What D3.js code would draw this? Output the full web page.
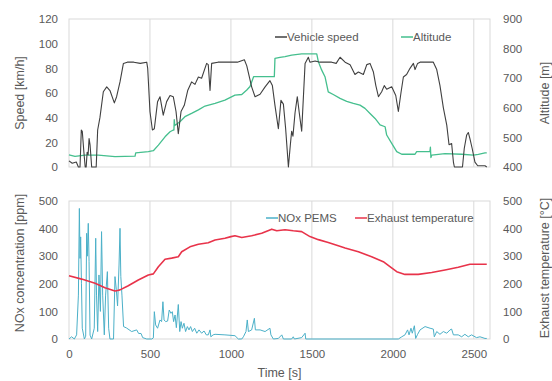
<!DOCTYPE html>
<html>
<head>
<meta charset="utf-8">
<script src="https://cdn.jsdelivr.net/npm/d3@7"></script>
<style>
  html, body { margin: 0; padding: 0; background: #fff; }
  svg { display: block; font-family: "Liberation Sans", Arial, sans-serif; }
</style>
</head>
<body>
<div id="chart"></div>
<script>
// time axis ticks [s]
const timeTicks = [0, 500, 1000, 1500, 2000, 2500];
const speedTicks = [0, 20, 40, 60, 80, 100, 120];
const altitudeTicks = [400, 500, 600, 700, 800, 900];
const noxTicks = [0, 100, 200, 300, 400, 500];
const tempTicks = [0, 100, 200, 300, 400, 500];

// [time s, km/h]
const vehicleSpeed = [[0,5],[20,3],[45,4],[58,0],[68,0],[76,30],[82,29],[92,12],[100,0],[106,0],[112,12],[118,10],[124,23],[130,18],[140,0],[168,0],[177,30],[191,40],[212,61],[233,65],[253,62],[280,52],[294,57],[315,69],[336,84],[360,85],[400,85],[440,84],[480,85],[486,80],[500,45],[515,30],[527,31],[547,53],[562,57],[582,42],[603,53],[624,58],[644,57],[661,45],[675,27],[692,45],[712,50],[733,62],[757,69],[778,67],[799,73],[819,72],[850,84],[860,83],[871,62],[881,84],[920,85],[980,85],[1040,85],[1083,87],[1098,82],[1128,65],[1149,57],[1180,59],[1211,65],[1241,70],[1256,66],[1272,50],[1293,31],[1309,54],[1324,51],[1338,31],[1355,0],[1367,18],[1375,29],[1383,25],[1396,44],[1410,57],[1422,44],[1437,29],[1458,84],[1478,89],[1488,85],[1520,86],[1550,85],[1591,85],[1622,85],[1650,84],[1674,89],[1705,85],[1736,83],[1766,75],[1787,77],[1818,75],[1839,83],[1859,84],[1880,77],[1895,66],[1911,57],[1931,61],[1947,66],[1962,63],[1993,65],[2018,58],[2034,45],[2050,60],[2065,73],[2085,75],[2106,80],[2127,84],[2137,79],[2153,84],[2168,85],[2200,85],[2250,85],[2271,79],[2291,66],[2312,48],[2333,34],[2347,18],[2363,19],[2374,4],[2380,0],[2430,0],[2441,15],[2456,26],[2466,28],[2476,23],[2490,15],[2507,4],[2524,1],[2569,1],[2580,0]];

// [time s, m]
const altitude = [[0,441],[37,436],[99,440],[181,440],[284,435],[408,437],[412,448],[490,452],[521,455],[552,474],[593,502],[624,519],[644,525],[648,525],[650,560],[653,540],[685,553],[716,570],[757,581],[799,593],[840,606],[902,615],[963,626],[1025,643],[1067,645],[1098,660],[1118,672],[1140,705],[1268,705],[1272,767],[1303,770],[1334,773],[1375,778],[1437,782],[1530,782],[1540,756],[1560,728],[1581,705],[1601,654],[1632,645],[1674,632],[1715,622],[1756,615],[1797,609],[1828,598],[1859,581],[1890,564],[1921,542],[1952,536],[1962,508],[1993,480],[2024,452],[2055,443],[2137,443],[2147,452],[2229,452],[2232,467],[2235,432],[2240,440],[2322,445],[2425,443],[2497,440],[2528,443],[2569,448],[2580,448]];

// [time s, ppm]
const noxPems = [[0,0],[16,8],[33,0],[47,15],[58,159],[64,473],[68,292],[72,370],[77,200],[82,39],[95,0],[103,10],[109,383],[113,300],[119,419],[124,280],[130,14],[140,0],[156,39],[165,365],[170,159],[177,27],[185,232],[194,100],[201,389],[208,159],[218,15],[226,159],[237,244],[245,39],[253,0],[275,0],[284,226],[292,180],[300,120],[309,268],[315,401],[320,226],[327,159],[337,45],[355,40],[387,27],[418,33],[430,20],[445,20],[455,5],[480,0],[511,0],[521,4],[527,99],[535,51],[547,39],[562,69],[572,63],[580,135],[587,69],[597,63],[609,65],[619,105],[630,93],[638,99],[646,63],[655,87],[663,41],[675,125],[684,27],[692,63],[700,39],[710,57],[720,27],[731,45],[741,33],[751,45],[762,27],[776,39],[789,21],[803,33],[819,21],[834,29],[848,15],[860,15],[871,33],[876,8],[890,15],[902,17],[963,15],[1025,12],[1046,0],[1067,0],[1077,8],[1093,27],[1101,69],[1108,27],[1128,33],[1145,75],[1151,33],[1180,33],[1211,27],[1241,39],[1247,15],[1262,0],[1293,2],[1314,15],[1324,0],[1375,0],[1385,8],[1392,0],[1437,5],[1458,21],[1462,0],[2034,0],[2055,8],[2075,15],[2091,33],[2100,15],[2112,39],[2120,21],[2133,48],[2141,2],[2153,17],[2168,33],[2199,45],[2230,39],[2250,36],[2256,8],[2271,27],[2291,17],[2312,27],[2333,21],[2353,33],[2363,36],[2374,15],[2404,15],[2425,8],[2445,17],[2466,8],[2486,15],[2517,5],[2538,8],[2569,2],[2580,2]];

// [time s, °C]
const exhaustTemp = [[0,229],[78,217],[161,202],[222,186],[284,174],[300,176],[315,178],[366,193],[428,214],[490,232],[521,236],[552,262],[593,289],[634,293],[675,298],[696,316],[747,334],[799,343],[860,349],[902,359],[963,365],[1000,371],[1025,374],[1067,368],[1128,374],[1190,383],[1252,398],[1283,392],[1334,396],[1385,392],[1437,389],[1488,371],[1540,360],[1601,350],[1663,338],[1705,330],[1787,316],[1869,298],[1941,280],[1982,262],[2024,244],[2075,234],[2157,234],[2240,241],[2322,250],[2404,260],[2476,271],[2580,271]];

const W = 552, H = 381;
const plot = { left: 69, right: 490 };
const topPanel = { top: 19, bottom: 167 };
const botPanel = { top: 201, bottom: 339 };
const GRID = '#d9d9d9';
const TEXT = '#595959';

const svg = d3.select('#chart').append('svg').attr('width', W).attr('height', H);

const x = d3.scaleLinear().domain([0, 2600]).range([plot.left, plot.right]);
const ySpeed = d3.scaleLinear().domain([0, 120]).range([topPanel.bottom, topPanel.top]);
const yAlt = d3.scaleLinear().domain([400, 900]).range([topPanel.bottom, topPanel.top]);
const yNox = d3.scaleLinear().domain([0, 500]).range([botPanel.bottom, botPanel.top]);
const yTemp = d3.scaleLinear().domain([0, 500]).range([botPanel.bottom, botPanel.top]);

function drawFrame(panel) {
  // vertical gridlines
  svg.append('g')
    .selectAll('line')
    .data(timeTicks.filter((t) => t > 0))
    .enter()
    .append('line')
    .attr('x1', (d) => x(d)).attr('x2', (d) => x(d))
    .attr('y1', panel.top).attr('y2', panel.bottom)
    .attr('stroke', GRID).attr('stroke-width', 1);
  svg.append('rect')
    .attr('x', plot.left).attr('y', panel.top)
    .attr('width', plot.right - plot.left).attr('height', panel.bottom - panel.top)
    .attr('fill', 'none').attr('stroke', GRID).attr('stroke-width', 1);
}

function styleAxis(g) {
  g.select('.domain').remove();
  g.selectAll('.tick line').remove();
  g.selectAll('text').attr('fill', TEXT).attr('font-size', '11.5px')
    .attr('font-family', '"Liberation Sans", Arial, sans-serif');
}

function drawSeries(data, yScale, color, width) {
  const line = d3.line().x((d) => x(d[0])).y((d) => yScale(d[1]));
  svg.append('path').datum(data)
    .attr('fill', 'none').attr('stroke', color).attr('stroke-width', width)
    .attr('stroke-linejoin', 'round').attr('d', line);
}

function axisTitle(text, cx, cy) {
  svg.append('text')
    .attr('transform', `translate(${cx},${cy}) rotate(-90)`)
    .attr('text-anchor', 'middle').attr('dy', '0.35em')
    .attr('fill', TEXT).attr('font-size', '12.5px')
    .text(text);
}

function legendItem(label, color, lx, ly) {
  svg.append('line')
    .attr('x1', lx).attr('x2', lx + 12).attr('y1', ly).attr('y2', ly)
    .attr('stroke', color).attr('stroke-width', 1.5);
  svg.append('text')
    .attr('x', lx + 12).attr('y', ly).attr('dy', '0.35em')
    .attr('fill', TEXT).attr('font-size', '11.5px')
    .text(label);
}

// Top panel
drawFrame(topPanel);
svg.append('g').attr('transform', `translate(${plot.left - 8},0)`)
  .call(d3.axisLeft(ySpeed).tickValues(speedTicks).tickSize(0)).call(styleAxis);
svg.append('g').attr('transform', `translate(${plot.right + 10},0)`)
  .call(d3.axisRight(yAlt).tickValues(altitudeTicks).tickSize(0)).call(styleAxis);
drawSeries(altitude, yAlt, '#45bf8e', 1.3);
drawSeries(vehicleSpeed, ySpeed, '#404040', 1.1);
axisTitle('Speed [km/h]', 20, 93);
axisTitle('Altitude [m]', 545, 93);
legendItem('Vehicle speed', '#404040', 275, 37);
legendItem('Altitude', '#45bf8e', 401, 37);

// Bottom panel
drawFrame(botPanel);
svg.append('g').attr('transform', `translate(${plot.left - 8},0)`)
  .call(d3.axisLeft(yNox).tickValues(noxTicks).tickSize(0)).call(styleAxis);
svg.append('g').attr('transform', `translate(${plot.right + 10},0)`)
  .call(d3.axisRight(yTemp).tickValues(tempTicks).tickSize(0)).call(styleAxis);
svg.append('g').attr('transform', `translate(0,${botPanel.bottom + 8})`)
  .call(d3.axisBottom(x).tickValues(timeTicks).tickSize(0).tickFormat(d3.format('d'))).call(styleAxis);
drawSeries(noxPems, yNox, '#4bb0c8', 1);
drawSeries(exhaustTemp, yTemp, '#e8334a', 1.6);
axisTitle('NOx concentration [ppm]', 20, 263);
axisTitle('Exhaust temperature [°C]', 545, 268);
legendItem('NOx PEMS', '#4bb0c8', 266, 218);
legendItem('Exhaust temperature', '#e8334a', 355, 218);

svg.append('text')
  .attr('x', (plot.left + plot.right) / 2).attr('y', 373).attr('dy', '0.35em')
  .attr('text-anchor', 'middle').attr('fill', TEXT).attr('font-size', '12.5px')
  .text('Time [s]');
</script>
</body>
</html>
